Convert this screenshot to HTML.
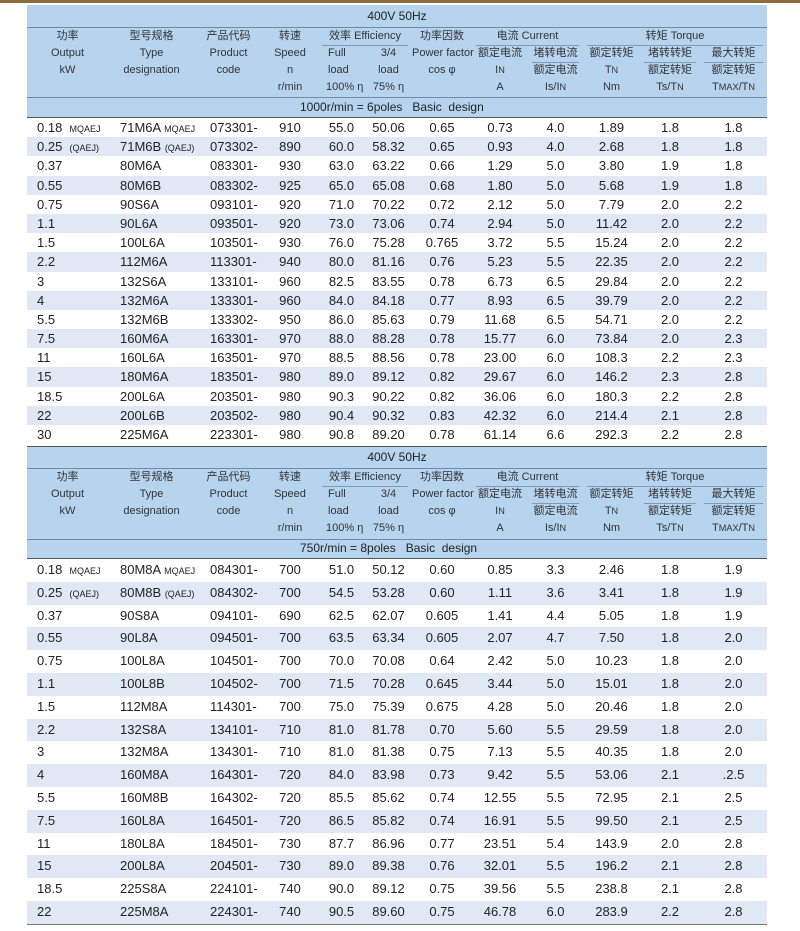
<!DOCTYPE html>
<html><head><meta charset="utf-8"><style>
body{margin:0;width:800px;height:931px;background:#fff;position:relative;overflow:hidden;font-family:"Liberation Sans","Noto Sans CJK SC",sans-serif;color:#222}
.top{position:absolute;left:0;top:0;width:800px;height:3px;background:#8d6c3c}
.g{display:grid;grid-template-columns:81px 87px 67px 56px 47px 47px 60px 56px 55px 57px 60px 67px;position:absolute;left:27px;width:740px}
.hb{position:absolute;left:27px;width:740px;background:#b7d4ef}
.ln{position:absolute;left:27px;width:740px;height:1px;background:#6f8aa3}
.h{font-size:11px;color:#333;text-align:center;height:17px;line-height:17px;white-space:nowrap}
.h span{display:block;margin:0 4px}
.u span{border-bottom:1px solid #7e9cb8}
.r{height:var(--rh);line-height:var(--rh);font-size:13px}
.r div{text-align:center;white-space:nowrap}
.r div.l1{text-align:left;padding-left:10px}
.r div.l2{text-align:left;padding-left:12px}
.r div.l3{text-align:left;padding-left:15px}
.s{font-size:9px}
.alt{background:#dfe8f4}
.title{position:absolute;left:27px;width:740px;text-align:center;font-size:12px}
.sub{position:absolute;left:300px;font-size:12px}
</style></head><body>
<div class="top"></div>

<div class="hb" style="top:5px;height:112px"></div>
<div class="title" style="top:5px;line-height:22px">400V 50Hz</div>
<div class="ln" style="top:27px"></div>
<div class="g" style="top:28px">
<div class="h">功率</div><div class="h">型号规格</div><div class="h">产品代码</div><div class="h">转速</div><div class="h u" style="grid-column:span 2"><span>效率 Efficiency</span></div><div class="h">功率因数</div><div class="h u" style="grid-column:span 2"><span>电流 Current</span></div><div class="h u" style="grid-column:span 3"><span>转矩 Torque</span></div>
</div>
<div class="g" style="top:45px">
<div class="h">Output</div><div class="h">Type</div><div class="h">Product</div><div class="h">Speed</div><div class="h" style="text-align:left;padding-left:10px">Full</div><div class="h">3/4</div><div class="h">Power factor</div><div class="h">额定电流</div><div class="h u"><span>堵转电流</span></div><div class="h">额定转矩</div><div class="h u"><span>堵转转矩</span></div><div class="h u"><span>最大转矩</span></div>
</div>
<div class="g" style="top:62px">
<div class="h">kW</div><div class="h">designation</div><div class="h">code</div><div class="h">n</div><div class="h" style="text-align:left;padding-left:10px">load</div><div class="h">load</div><div class="h">cos φ</div><div class="h">I<small>N</small></div><div class="h">额定电流</div><div class="h">T<small>N</small></div><div class="h">额定转矩</div><div class="h">额定转矩</div>
</div>
<div class="g" style="top:79px">
<div class="h"></div><div class="h"></div><div class="h"></div><div class="h">r/min</div><div class="h" style="text-align:left;padding-left:8px">100% η</div><div class="h">75% η</div><div class="h"></div><div class="h">A</div><div class="h">Is/I<small>N</small></div><div class="h">Nm</div><div class="h">Ts/T<small>N</small></div><div class="h">T<small>MAX</small>/T<small>N</small></div>
</div>
<div class="ln" style="top:97px"></div>
<div class="sub" style="top:97px;line-height:20px">1000r/min = 6poles &nbsp; Basic &nbsp;design</div>
<div class="ln" style="top:117px;background:#555"></div>

<div style="position:absolute;top:118px;left:0;--rh:19.2px">
<div class="g r" style="position:relative"><div class="l1">0.18 &nbsp;<span class="s">MQAEJ</span></div><div class="l2">71M6A <span class="s">MQAEJ</span></div><div class="l3">073301-</div><div>910</div><div>55.0</div><div>50.06</div><div>0.65</div><div>0.73</div><div>4.0</div><div>1.89</div><div>1.8</div><div>1.8</div></div>
<div class="g r alt" style="position:relative"><div class="l1">0.25 &nbsp;<span class="s">(QAEJ)</span></div><div class="l2">71M6B <span class="s">(QAEJ)</span></div><div class="l3">073302-</div><div>890</div><div>60.0</div><div>58.32</div><div>0.65</div><div>0.93</div><div>4.0</div><div>2.68</div><div>1.8</div><div>1.8</div></div>
<div class="g r" style="position:relative"><div class="l1">0.37</div><div class="l2">80M6A</div><div class="l3">083301-</div><div>930</div><div>63.0</div><div>63.22</div><div>0.66</div><div>1.29</div><div>5.0</div><div>3.80</div><div>1.9</div><div>1.8</div></div>
<div class="g r alt" style="position:relative"><div class="l1">0.55</div><div class="l2">80M6B</div><div class="l3">083302-</div><div>925</div><div>65.0</div><div>65.08</div><div>0.68</div><div>1.80</div><div>5.0</div><div>5.68</div><div>1.9</div><div>1.8</div></div>
<div class="g r" style="position:relative"><div class="l1">0.75</div><div class="l2">90S6A</div><div class="l3">093101-</div><div>920</div><div>71.0</div><div>70.22</div><div>0.72</div><div>2.12</div><div>5.0</div><div>7.79</div><div>2.0</div><div>2.2</div></div>
<div class="g r alt" style="position:relative"><div class="l1">1.1</div><div class="l2">90L6A</div><div class="l3">093501-</div><div>920</div><div>73.0</div><div>73.06</div><div>0.74</div><div>2.94</div><div>5.0</div><div>11.42</div><div>2.0</div><div>2.2</div></div>
<div class="g r" style="position:relative"><div class="l1">1.5</div><div class="l2">100L6A</div><div class="l3">103501-</div><div>930</div><div>76.0</div><div>75.28</div><div>0.765</div><div>3.72</div><div>5.5</div><div>15.24</div><div>2.0</div><div>2.2</div></div>
<div class="g r alt" style="position:relative"><div class="l1">2.2</div><div class="l2">112M6A</div><div class="l3">113301-</div><div>940</div><div>80.0</div><div>81.16</div><div>0.76</div><div>5.23</div><div>5.5</div><div>22.35</div><div>2.0</div><div>2.2</div></div>
<div class="g r" style="position:relative"><div class="l1">3</div><div class="l2">132S6A</div><div class="l3">133101-</div><div>960</div><div>82.5</div><div>83.55</div><div>0.78</div><div>6.73</div><div>6.5</div><div>29.84</div><div>2.0</div><div>2.2</div></div>
<div class="g r alt" style="position:relative"><div class="l1">4</div><div class="l2">132M6A</div><div class="l3">133301-</div><div>960</div><div>84.0</div><div>84.18</div><div>0.77</div><div>8.93</div><div>6.5</div><div>39.79</div><div>2.0</div><div>2.2</div></div>
<div class="g r" style="position:relative"><div class="l1">5.5</div><div class="l2">132M6B</div><div class="l3">133302-</div><div>950</div><div>86.0</div><div>85.63</div><div>0.79</div><div>11.68</div><div>6.5</div><div>54.71</div><div>2.0</div><div>2.2</div></div>
<div class="g r alt" style="position:relative"><div class="l1">7.5</div><div class="l2">160M6A</div><div class="l3">163301-</div><div>970</div><div>88.0</div><div>88.28</div><div>0.78</div><div>15.77</div><div>6.0</div><div>73.84</div><div>2.0</div><div>2.3</div></div>
<div class="g r" style="position:relative"><div class="l1">11</div><div class="l2">160L6A</div><div class="l3">163501-</div><div>970</div><div>88.5</div><div>88.56</div><div>0.78</div><div>23.00</div><div>6.0</div><div>108.3</div><div>2.2</div><div>2.3</div></div>
<div class="g r alt" style="position:relative"><div class="l1">15</div><div class="l2">180M6A</div><div class="l3">183501-</div><div>980</div><div>89.0</div><div>89.12</div><div>0.82</div><div>29.67</div><div>6.0</div><div>146.2</div><div>2.3</div><div>2.8</div></div>
<div class="g r" style="position:relative"><div class="l1">18.5</div><div class="l2">200L6A</div><div class="l3">203501-</div><div>980</div><div>90.3</div><div>90.22</div><div>0.82</div><div>36.06</div><div>6.0</div><div>180.3</div><div>2.2</div><div>2.8</div></div>
<div class="g r alt" style="position:relative"><div class="l1">22</div><div class="l2">200L6B</div><div class="l3">203502-</div><div>980</div><div>90.4</div><div>90.32</div><div>0.83</div><div>42.32</div><div>6.0</div><div>214.4</div><div>2.1</div><div>2.8</div></div>
<div class="g r" style="position:relative"><div class="l1">30</div><div class="l2">225M6A</div><div class="l3">223301-</div><div>980</div><div>90.8</div><div>89.20</div><div>0.78</div><div>61.14</div><div>6.6</div><div>292.3</div><div>2.2</div><div>2.8</div></div>
</div>

<div class="ln" style="top:446px;background:#555"></div>
<div class="hb" style="top:447px;height:111px"></div>
<div class="title" style="top:447px;line-height:21px">400V 50Hz</div>
<div class="ln" style="top:468px"></div>
<div class="g" style="top:469px">
<div class="h">功率</div><div class="h">型号规格</div><div class="h">产品代码</div><div class="h">转速</div><div class="h u" style="grid-column:span 2"><span>效率 Efficiency</span></div><div class="h">功率因数</div><div class="h u" style="grid-column:span 2"><span>电流 Current</span></div><div class="h u" style="grid-column:span 3"><span>转矩 Torque</span></div>
</div>
<div class="g" style="top:486px">
<div class="h">Output</div><div class="h">Type</div><div class="h">Product</div><div class="h">Speed</div><div class="h" style="text-align:left;padding-left:10px">Full</div><div class="h">3/4</div><div class="h">Power factor</div><div class="h">额定电流</div><div class="h u"><span>堵转电流</span></div><div class="h">额定转矩</div><div class="h u"><span>堵转转矩</span></div><div class="h u"><span>最大转矩</span></div>
</div>
<div class="g" style="top:503px">
<div class="h">kW</div><div class="h">designation</div><div class="h">code</div><div class="h">n</div><div class="h" style="text-align:left;padding-left:10px">load</div><div class="h">load</div><div class="h">cos φ</div><div class="h">I<small>N</small></div><div class="h">额定电流</div><div class="h">T<small>N</small></div><div class="h">额定转矩</div><div class="h">额定转矩</div>
</div>
<div class="g" style="top:520px">
<div class="h"></div><div class="h"></div><div class="h"></div><div class="h">r/min</div><div class="h" style="text-align:left;padding-left:8px">100% η</div><div class="h">75% η</div><div class="h"></div><div class="h">A</div><div class="h">Is/I<small>N</small></div><div class="h">Nm</div><div class="h">Ts/T<small>N</small></div><div class="h">T<small>MAX</small>/T<small>N</small></div>
</div>
<div class="ln" style="top:539px"></div>
<div class="sub" style="top:539px;line-height:19px">750r/min = 8poles &nbsp; Basic &nbsp;design</div>
<div class="ln" style="top:558px;background:#555"></div>

<div style="position:absolute;top:559px;left:0;--rh:22.8px">
<div class="g r" style="position:relative"><div class="l1">0.18 &nbsp;<span class="s">MQAEJ</span></div><div class="l2">80M8A <span class="s">MQAEJ</span></div><div class="l3">084301-</div><div>700</div><div>51.0</div><div>50.12</div><div>0.60</div><div>0.85</div><div>3.3</div><div>2.46</div><div>1.8</div><div>1.9</div></div>
<div class="g r alt" style="position:relative"><div class="l1">0.25 &nbsp;<span class="s">(QAEJ)</span></div><div class="l2">80M8B <span class="s">(QAEJ)</span></div><div class="l3">084302-</div><div>700</div><div>54.5</div><div>53.28</div><div>0.60</div><div>1.11</div><div>3.6</div><div>3.41</div><div>1.8</div><div>1.9</div></div>
<div class="g r" style="position:relative"><div class="l1">0.37</div><div class="l2">90S8A</div><div class="l3">094101-</div><div>690</div><div>62.5</div><div>62.07</div><div>0.605</div><div>1.41</div><div>4.4</div><div>5.05</div><div>1.8</div><div>1.9</div></div>
<div class="g r alt" style="position:relative"><div class="l1">0.55</div><div class="l2">90L8A</div><div class="l3">094501-</div><div>700</div><div>63.5</div><div>63.34</div><div>0.605</div><div>2.07</div><div>4.7</div><div>7.50</div><div>1.8</div><div>2.0</div></div>
<div class="g r" style="position:relative"><div class="l1">0.75</div><div class="l2">100L8A</div><div class="l3">104501-</div><div>700</div><div>70.0</div><div>70.08</div><div>0.64</div><div>2.42</div><div>5.0</div><div>10.23</div><div>1.8</div><div>2.0</div></div>
<div class="g r alt" style="position:relative"><div class="l1">1.1</div><div class="l2">100L8B</div><div class="l3">104502-</div><div>700</div><div>71.5</div><div>70.28</div><div>0.645</div><div>3.44</div><div>5.0</div><div>15.01</div><div>1.8</div><div>2.0</div></div>
<div class="g r" style="position:relative"><div class="l1">1.5</div><div class="l2">112M8A</div><div class="l3">114301-</div><div>700</div><div>75.0</div><div>75.39</div><div>0.675</div><div>4.28</div><div>5.0</div><div>20.46</div><div>1.8</div><div>2.0</div></div>
<div class="g r alt" style="position:relative"><div class="l1">2.2</div><div class="l2">132S8A</div><div class="l3">134101-</div><div>710</div><div>81.0</div><div>81.78</div><div>0.70</div><div>5.60</div><div>5.5</div><div>29.59</div><div>1.8</div><div>2.0</div></div>
<div class="g r" style="position:relative"><div class="l1">3</div><div class="l2">132M8A</div><div class="l3">134301-</div><div>710</div><div>81.0</div><div>81.38</div><div>0.75</div><div>7.13</div><div>5.5</div><div>40.35</div><div>1.8</div><div>2.0</div></div>
<div class="g r alt" style="position:relative"><div class="l1">4</div><div class="l2">160M8A</div><div class="l3">164301-</div><div>720</div><div>84.0</div><div>83.98</div><div>0.73</div><div>9.42</div><div>5.5</div><div>53.06</div><div>2.1</div><div>.2.5</div></div>
<div class="g r" style="position:relative"><div class="l1">5.5</div><div class="l2">160M8B</div><div class="l3">164302-</div><div>720</div><div>85.5</div><div>85.62</div><div>0.74</div><div>12.55</div><div>5.5</div><div>72.95</div><div>2.1</div><div>2.5</div></div>
<div class="g r alt" style="position:relative"><div class="l1">7.5</div><div class="l2">160L8A</div><div class="l3">164501-</div><div>720</div><div>86.5</div><div>85.82</div><div>0.74</div><div>16.91</div><div>5.5</div><div>99.50</div><div>2.1</div><div>2.5</div></div>
<div class="g r" style="position:relative"><div class="l1">11</div><div class="l2">180L8A</div><div class="l3">184501-</div><div>730</div><div>87.7</div><div>86.96</div><div>0.77</div><div>23.51</div><div>5.4</div><div>143.9</div><div>2.0</div><div>2.8</div></div>
<div class="g r alt" style="position:relative"><div class="l1">15</div><div class="l2">200L8A</div><div class="l3">204501-</div><div>730</div><div>89.0</div><div>89.38</div><div>0.76</div><div>32.01</div><div>5.5</div><div>196.2</div><div>2.1</div><div>2.8</div></div>
<div class="g r" style="position:relative"><div class="l1">18.5</div><div class="l2">225S8A</div><div class="l3">224101-</div><div>740</div><div>90.0</div><div>89.12</div><div>0.75</div><div>39.56</div><div>5.5</div><div>238.8</div><div>2.1</div><div>2.8</div></div>
<div class="g r alt" style="position:relative"><div class="l1">22</div><div class="l2">225M8A</div><div class="l3">224301-</div><div>740</div><div>90.5</div><div>89.60</div><div>0.75</div><div>46.78</div><div>6.0</div><div>283.9</div><div>2.2</div><div>2.8</div></div>
</div>
<div class="ln" style="top:924px;background:#777"></div>
</body></html>
